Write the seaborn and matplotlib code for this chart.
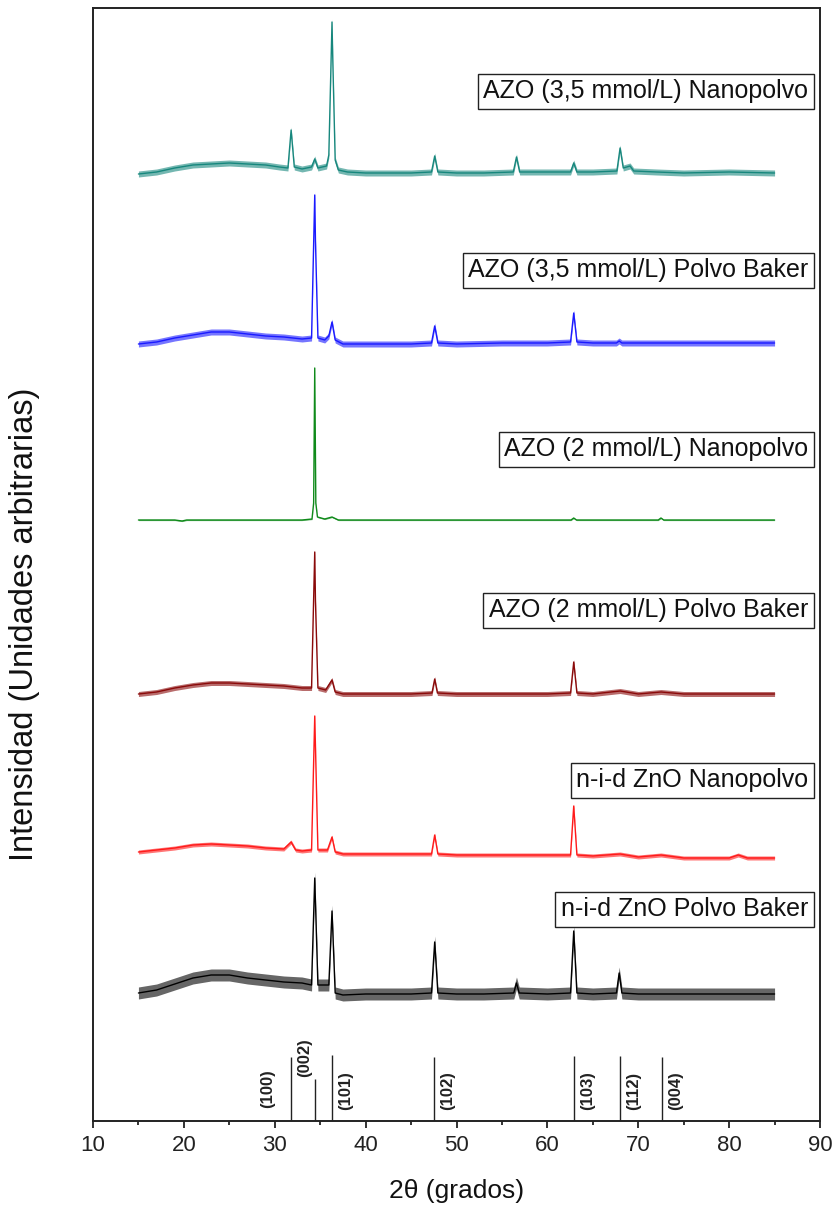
import numpy as np
import pandas as pd
import matplotlib
matplotlib.use("Agg")
import matplotlib.pyplot as plt
from matplotlib.ticker import MultipleLocator
import seaborn as sns

# ---- XRD patterns (2θ in degrees, intensity in arbitrary stacked units) ----
azo35_nano_x = [15, 17, 19, 21, 23, 25, 27, 29, 30.5, 31.45, 31.8, 32.15, 33, 34.05, 34.4, 34.75,
                35.7, 35.95, 36.3, 36.38, 36.65, 37, 38, 40, 45, 47.25, 47.6, 47.95, 50, 53,
                56.25, 56.6, 56.95, 60, 62.55, 62.9, 63.25, 65, 67.65, 68.0, 68.35, 69.1, 69.5,
                72, 75, 80, 85]
azo35_nano_y = [947, 949, 953, 956, 957, 958, 957, 956, 954, 953, 991, 954, 952, 954, 962, 953,
                955, 966, 1099, 1064, 961, 951, 949, 948, 948, 949, 965, 949, 948, 948,
                949, 964, 949, 949, 949, 958, 949, 949, 950, 973, 953, 955, 950,
                949, 948, 949, 948]

azo35_baker_x = [15, 17, 19, 21, 23, 25, 27, 29, 31, 32, 33, 34.05, 34.4, 34.48, 34.75, 35.5,
                 35.95, 36.3, 36.65, 37.5, 40, 45, 47.25, 47.6, 47.95, 50, 55, 60, 62.55, 62.9,
                 63.25, 65, 67.6, 67.9, 68.2, 72, 76, 80, 85]
azo35_baker_y = [777, 779, 783, 786, 789, 789, 787, 785, 784, 783, 782, 783, 926, 880, 783, 781,
                 785, 799, 781, 777, 777, 777, 778, 795, 778, 777, 778, 778, 779, 808,
                 779, 778, 778, 780, 778, 778, 778, 778, 778]

azo2_nano_x = [15, 19, 19.8, 20.3, 25, 30, 33, 34.1, 34.28, 34.4, 34.52, 34.7, 35.5, 36.3,
               37, 45, 60, 62.6, 62.9, 63.2, 72.2, 72.5, 72.8, 85]
azo2_nano_y = [601, 601, 600, 601, 601, 601, 601, 602, 618, 753, 618, 604, 602, 604,
               601, 601, 601, 601, 603, 601, 601, 603, 601, 601]

azo2_baker_x = [15, 17, 19, 21, 23, 25, 27, 29, 31, 33, 34.05, 34.4, 34.48, 34.75, 35.6,
                36.3, 36.65, 37.5, 40, 45, 47.3, 47.6, 47.9, 50, 55, 60, 62.55, 62.9, 63.25,
                65, 68, 70, 72.5, 75, 80, 85]
azo2_baker_y = [427, 429, 433, 436, 438, 438, 437, 436, 435, 433, 433, 569, 520, 433, 431,
                441, 429, 427, 427, 427, 428, 442, 428, 427, 427, 427, 428, 459, 428,
                427, 430, 427, 429, 427, 427, 427]

zno_nano_x = [15, 17, 19, 21, 23, 25, 27, 29, 31, 31.8, 32.3, 33, 34.05, 34.4, 34.75, 35.8,
              36.3, 36.65, 37.5, 40, 45, 47.25, 47.6, 47.95, 50, 55, 60, 62.55, 62.9, 63.25,
              65, 68, 70, 72.5, 75, 80, 81, 82, 85]
zno_nano_y = [269, 271, 273, 276, 277, 276, 275, 273, 272, 279, 271, 270, 271, 405, 271, 271,
              284, 269, 267, 267, 267, 267, 286, 267, 266, 266, 266, 266, 315, 266,
              265, 267, 264, 266, 263, 263, 266, 263, 263]

zno_baker_x = [15, 17, 19, 21, 23, 25, 27, 29, 31, 33, 34.05, 34.4, 34.75, 35.95, 36.3,
               36.65, 37.5, 40, 45, 47.25, 47.6, 47.95, 50, 53, 56.3, 56.6, 56.9, 60, 62.55,
               62.9, 63.25, 65, 67.6, 67.9, 68.2, 70, 75, 80, 85]
zno_baker_y = [128, 131, 137, 143, 146, 146, 143, 141, 139, 138, 136, 243, 136, 136, 210,
               128, 126, 127, 127, 128, 179, 128, 127, 127, 128, 138, 128, 127, 128,
               190, 128, 127, 128, 148, 128, 127, 127, 127, 127]

# Half-width of the counting-noise band of each pattern
noise_halfwidth = [3.0, 3.0, 0.6, 2.5, 2.0, 6.0]

sample_names = ["AZO (3,5 mmol/L) Nanopolvo", "AZO (3,5 mmol/L) Polvo Baker",
                "AZO (2 mmol/L) Nanopolvo", "AZO (2 mmol/L) Polvo Baker",
                "n-i-d ZnO Nanopolvo", "n-i-d ZnO Polvo Baker"]
sample_colors = ["#17877d", "#1a1aff", "#0f8a1a", "#8a0a0a", "#ff1a1a", "#000000"]
label_y = [1030, 851, 672, 511, 341, 212]

# ---- ZnO reference reflections (wurtzite) ----
hkl_labels = ["(100)", "(002)", "(101)", "(102)", "(103)", "(112)", "(004)"]
hkl_pos = [31.8, 34.4, 36.3, 47.5, 62.9, 68.0, 72.6]
hkl_height = [64, 42, 66, 64, 65, 65, 64]

x_ticks = [10, 20, 30, 40, 50, 60, 70, 80, 90]

series_x = [azo35_nano_x, azo35_baker_x, azo2_nano_x, azo2_baker_x, zno_nano_x, zno_baker_x]
series_y = [azo35_nano_y, azo35_baker_y, azo2_nano_y, azo2_baker_y, zno_nano_y, zno_baker_y]

frames = []
for name, xs, ys in zip(sample_names, series_x, series_y):
    frames.append(pd.DataFrame({"two_theta": xs, "intensity": ys, "muestra": name}))
df = pd.concat(frames, ignore_index=True)

sns.set_theme(style="white")
plt.rcParams["font.family"] = ["Liberation Sans", "DejaVu Sans"]

fig = plt.figure(figsize=(8.35, 12.09), dpi=100)
ax = fig.add_axes([93 / 835, (1209 - 1121) / 1209, 727 / 835, 1113 / 1209])

for name, color, hw in zip(sample_names, sample_colors, noise_halfwidth):
    sub = df[df["muestra"] == name]
    ax.fill_between(sub["two_theta"], sub["intensity"] - hw, sub["intensity"] + hw,
                    color=color, alpha=0.6, lw=0)

sns.lineplot(data=df, x="two_theta", y="intensity", hue="muestra", units="muestra",
             estimator=None, sort=False, palette=dict(zip(sample_names, sample_colors)),
             hue_order=sample_names, legend=False, lw=1.0, ax=ax)

for name, ly in zip(sample_names, label_y):
    ax.text(0.984, ly, name, transform=ax.get_yaxis_transform(), ha="right", va="center",
            fontsize=18, color="#111111",
            bbox=dict(boxstyle="square,pad=0.22", fc="white", ec="#222222", lw=1.0))

# Reference sticks with their Miller indices
ax.vlines(hkl_pos, 0, hkl_height, color="#222222", lw=1.0)
for lab, pos, h in zip(hkl_labels, hkl_pos, hkl_height):
    if lab == "(100)":
        ax.text(pos - 1.8, 32, lab, rotation=90, ha="right", va="center",
                fontsize=12, fontweight="bold", color="#222222")
    elif lab == "(002)":
        ax.text(pos - 0.25, 63, lab, rotation=90, ha="right", va="center",
                fontsize=12, fontweight="bold", color="#222222")
    else:
        ax.text(pos + 0.7, 30, lab, rotation=90, ha="left", va="center",
                fontsize=12, fontweight="bold", color="#222222")

ax.set_xlim(10, 90)
ax.set_ylim(0, 1113)
ax.set_xticks(x_ticks)
ax.xaxis.set_minor_locator(MultipleLocator(5))
ax.set_yticks([])
ax.tick_params(axis="x", which="major", direction="out", length=5, width=1.3,
               labelsize=16, pad=5, bottom=True, colors="#222222")
ax.tick_params(axis="x", which="minor", direction="out", length=3, width=1.3, bottom=True,
               colors="#222222")
for sp in ax.spines.values():
    sp.set_color("#222222")
    sp.set_linewidth(1.4)

ax.set_xlabel("2θ (grados)", fontsize=19, color="#111111")
ax.xaxis.set_label_coords(0.5, -0.052)
ax.set_ylabel("Intensidad (Unidades arbitrarias)", fontsize=23.5, color="#111111")
ax.yaxis.set_label_coords(-0.073, 0.446)

fig.savefig("out.png", dpi=100)
